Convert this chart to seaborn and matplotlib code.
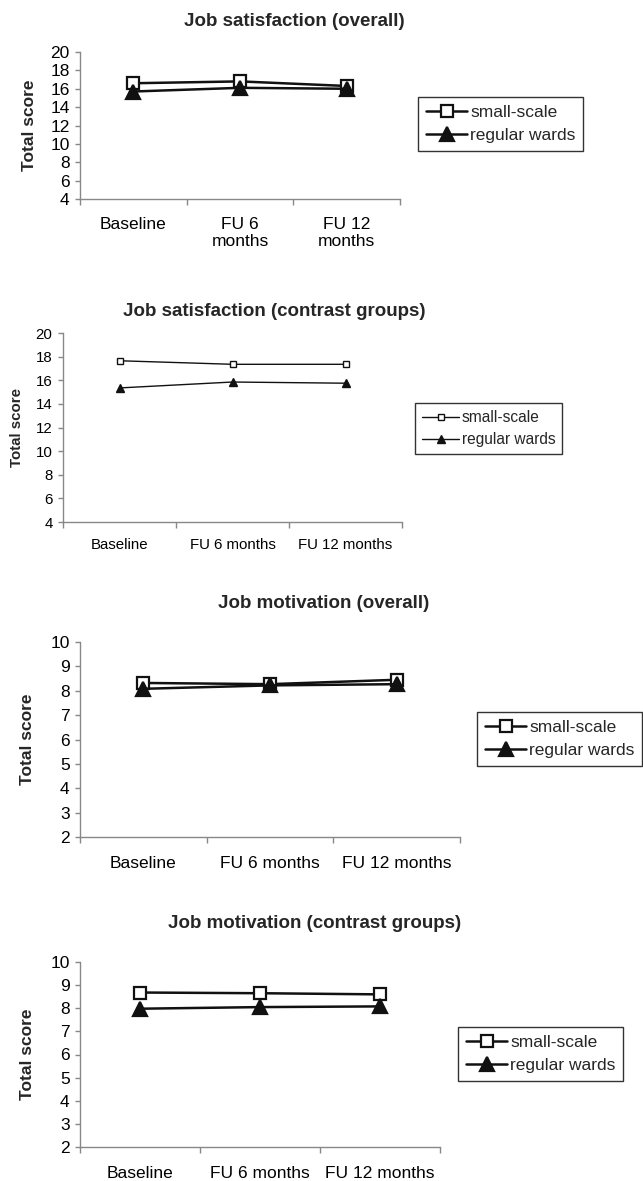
# Imports
import numpy as np
import pandas as pd
import matplotlib
matplotlib.use('Agg')
import matplotlib.pyplot as plt
import seaborn as sns

# Dados
groups = ['small-scale', 'regular wards']
times_wrapped = ['Baseline', 'FU 6\nmonths', 'FU 12\nmonths']
times = ['Baseline', 'FU 6 months', 'FU 12 months']

sat_overall_small = [16.6, 16.8, 16.3]
sat_overall_regular = [15.7, 16.1, 16.0]
sat_contrast_small = [17.65, 17.35, 17.35]
sat_contrast_regular = [15.35, 15.85, 15.75]
mot_overall_small = [8.32, 8.27, 8.45]
mot_overall_regular = [8.08, 8.22, 8.27]
mot_contrast_small = [8.68, 8.65, 8.6]
mot_contrast_regular = [7.98, 8.05, 8.08]

titles = ['Job satisfaction (overall)', 'Job satisfaction (contrast groups)',
          'Job motivation (overall)', 'Job motivation (contrast groups)']

sns.set_theme(style='white')
plt.rcParams['font.family'] = ['Liberation Sans', 'DejaVu Sans']

W, H = 643, 1181
fig = plt.figure(figsize=(W / 100, H / 100), dpi=100)

# (left, right, top, bottom) em pixels, titulo (x, y), legenda (x, y), fonte, estilo
panels = [
    dict(box=(80, 400, 52, 199), title=(294, 22), leg=(418, 97), ylab=-0.135,
         small=sat_overall_small, regular=sat_overall_regular, cats=times_wrapped,
         ylim=(4, 20), yticks=np.arange(4, 21, 2), fs=12.5, lfs=12.5, lw=1.8, ms=8.5, mew=1.6, xpad=13),
    dict(box=(63, 402, 333, 522), title=(274, 311), leg=(415, 403), ylab=-0.115,
         small=sat_contrast_small, regular=sat_contrast_regular, cats=times,
         ylim=(4, 20), yticks=np.arange(4, 21, 2), fs=10.8, lfs=11.2, lw=1.0, ms=5, mew=1.0, xpad=11.5),
    dict(box=(80, 460, 642, 837), title=(324, 604), leg=(477, 712), ylab=-0.118,
         small=mot_overall_small, regular=mot_overall_regular, cats=times,
         ylim=(2, 10), yticks=np.arange(2, 11, 1), fs=12.5, lfs=12.5, lw=1.8, ms=8.5, mew=1.6, xpad=13.5),
    dict(box=(80, 440, 962, 1147), title=(315, 923), leg=(458, 1027), ylab=-0.125,
         small=mot_contrast_small, regular=mot_contrast_regular, cats=times,
         ylim=(2, 10), yticks=np.arange(2, 11, 1), fs=12.5, lfs=12.5, lw=1.8, ms=8.5, mew=1.6, xpad=13.5),
]

for p, title in zip(panels, titles):
    l, r, t, b = p['box']
    ax = fig.add_axes([l / W, 1 - b / H, (r - l) / W, (b - t) / H])
    df = pd.DataFrame({'Tempo': p['cats'] * 2,
                       'Score': p['small'] + p['regular'],
                       'Grupo': [groups[0]] * 3 + [groups[1]] * 3})
    sns.lineplot(data=df[df['Grupo'] == groups[0]], x='Tempo', y='Score', sort=False,
                 color='#111111', lw=p['lw'], marker='s', markersize=p['ms'],
                 markerfacecolor='white', markeredgecolor='#111111',
                 markeredgewidth=p['mew'], label=groups[0], ax=ax)
    sns.lineplot(data=df[df['Grupo'] == groups[1]], x='Tempo', y='Score', sort=False,
                 color='#111111', lw=p['lw'], marker='^', markersize=p['ms'] * 1.15,
                 markerfacecolor='#111111', markeredgecolor='#111111',
                 markeredgewidth=p['mew'], label=groups[1], ax=ax)

    ax.set_xlim(-0.5, 2.5)
    ax.set_ylim(*p['ylim'])
    ax.set_yticks(p['yticks'])
    ax.set_xticks([-0.5, 0.5, 1.5, 2.5], minor=True)
    for s in ['top', 'right']:
        ax.spines[s].set_visible(False)
    for s in ['left', 'bottom']:
        ax.spines[s].set_color('#888888')
        ax.spines[s].set_linewidth(1.0)
    ax.tick_params(axis='y', which='major', left=True, length=3.5, width=1.0,
                   color='#888888', pad=4, labelsize=p['fs'], labelcolor='black')
    ax.tick_params(axis='x', which='major', bottom=True, length=0, pad=p['xpad'],
                   labelsize=p['fs'], labelcolor='black')
    ax.tick_params(axis='x', which='minor', bottom=True, length=4, width=1.0,
                   color='#888888', direction='out')
    ax.set_xlabel('')
    ax.set_ylabel('Total score', fontsize=p['fs'], fontweight='bold')
    ax.yaxis.set_label_coords(p['ylab'], 0.5)

    fig.text(p['title'][0] / W, 1 - p['title'][1] / H, title, ha='center', va='center',
             fontsize=13.5, fontweight='bold')

    leg = ax.legend(loc='upper left', bbox_to_anchor=(p['leg'][0] / W, 1 - p['leg'][1] / H),
                    bbox_transform=fig.transFigure, frameon=True, fancybox=False,
                    framealpha=1, edgecolor='#333333', fontsize=p['lfs'],
                    handlelength=2.4, handletextpad=0.15, labelspacing=0.45,
                    borderpad=0.45, borderaxespad=0)
    leg.get_frame().set_linewidth(1.0)

fig.savefig('out.png', dpi=100)
